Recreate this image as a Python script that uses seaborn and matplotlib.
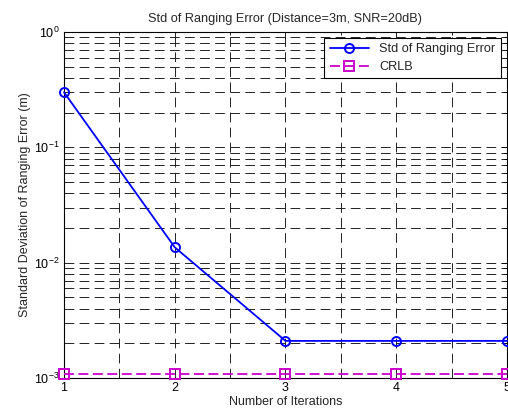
import matplotlib
matplotlib.use('Agg')
import numpy as np
import pandas as pd
import seaborn as sns
import matplotlib.pyplot as plt
from matplotlib.ticker import FixedLocator, LogLocator, NullFormatter

# values
iterations = [1, 2, 3, 4, 5]
std_error = [0.30, 0.0136, 0.0021, 0.0021, 0.0021]
crlb = [0.00108, 0.00108, 0.00108, 0.00108, 0.00108]

sns.set_style('white')
plt.rcParams['font.family'] = ['Liberation Sans', 'DejaVu Sans']
plt.rcParams['axes.edgecolor'] = 'black'
plt.rcParams['xtick.color'] = 'black'
plt.rcParams['ytick.color'] = 'black'

fig = plt.figure(figsize=(5.08, 4.15), dpi=100)
ax = fig.add_axes([0.126, 0.089, 0.872, 0.834])

# main curve
sns.lineplot(x=iterations, y=std_error, ax=ax, color='blue', linewidth=1.3,
             marker='o', markersize=6.5, markerfacecolor='none',
             markeredgecolor='blue', markeredgewidth=1.4,
             label='Std of Ranging Error', clip_on=False, zorder=5)
# bound
sns.lineplot(x=iterations, y=crlb, ax=ax, color='#cc00cc', linewidth=1.3,
             linestyle=(0, (5.5, 2.5)), marker='s', markersize=6.5,
             markerfacecolor='none', markeredgecolor='#cc00cc',
             markeredgewidth=1.4, label='CRLB', clip_on=False, zorder=5)

ax.set_yscale('log')
ax.set_ylim(1e-3, 1)
ax.set_xlim(1, 5)
ax.xaxis.set_major_locator(FixedLocator(iterations))
ax.xaxis.set_minor_locator(FixedLocator([1.5, 2.5, 3.5, 4.5]))
ax.yaxis.set_major_locator(LogLocator(base=10))
ax.yaxis.set_minor_locator(LogLocator(base=10, subs=np.arange(2, 10)))
ax.yaxis.set_minor_formatter(NullFormatter())

ax.grid(True, which='both', color='#222222', linestyle=(0, (10, 5.5)), linewidth=0.7)
ax.tick_params(which='both', direction='in', top=True, right=True,
               labelsize=9, length=4, width=0.6, pad=3)
ax.tick_params(which='minor', length=2)
for s in ax.spines.values():
    s.set_linewidth(0.8)

ax.set_title('Std of Ranging Error (Distance=3m, SNR=20dB)', fontsize=9.2, pad=7)
ax.set_xlabel('Number of Iterations', fontsize=9, labelpad=1)
ax.set_ylabel('Standard Deviation of Ranging Error (m)', fontsize=9, labelpad=2)

leg = ax.legend(loc='upper right', fontsize=9.2, frameon=True, fancybox=False,
                edgecolor='black', framealpha=1, handlelength=3.1,
                labelspacing=0.45, borderaxespad=0.5)
leg.get_frame().set_linewidth(0.8)

plt.savefig('out.png', dpi=100)
